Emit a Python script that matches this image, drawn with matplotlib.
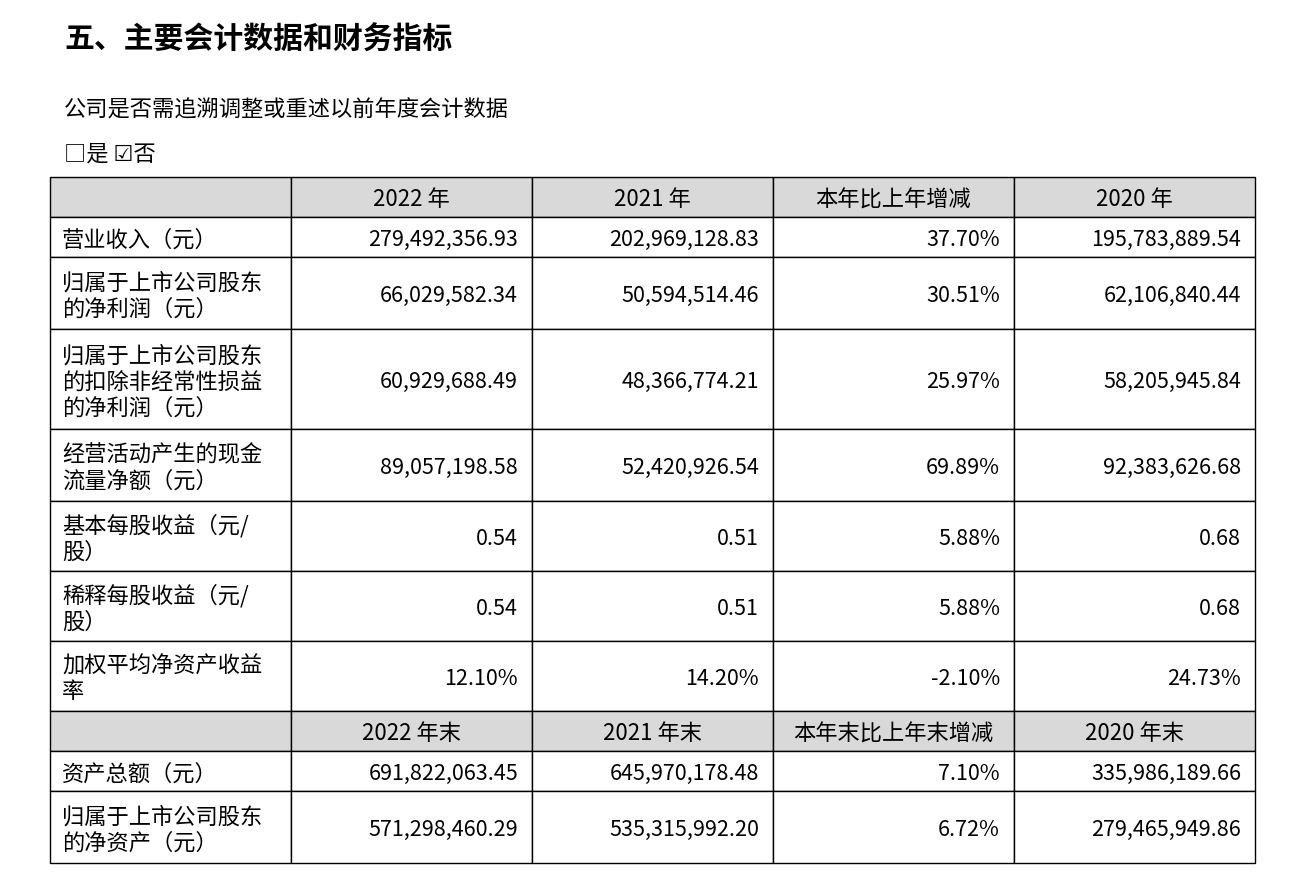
import matplotlib
matplotlib.use("Agg")
import matplotlib.pyplot as plt
from matplotlib.patches import Rectangle

plt.rcParams['font.family'] = ['Noto Sans CJK SC', 'DejaVu Sans']

title = "五、主要会计数据和财务指标"
subtitle = "公司是否需追溯调整或重述以前年度会计数据"
choice = "□是 ☑否"
header1 = ["", "2022 年", "2021 年", "本年比上年增减", "2020 年"]
header2 = ["", "2022 年末", "2021 年末", "本年末比上年末增减", "2020 年末"]
labels1 = ["营业收入（元）", "归属于上市公司股东\n的净利润（元）",
           "归属于上市公司股东\n的扣除非经常性损益\n的净利润（元）",
           "经营活动产生的现金\n流量净额（元）", "基本每股收益（元/\n股）",
           "稀释每股收益（元/\n股）", "加权平均净资产收益\n率"]
vals2022 = ["279,492,356.93", "66,029,582.34", "60,929,688.49", "89,057,198.58", "0.54", "0.54", "12.10%"]
vals2021 = ["202,969,128.83", "50,594,514.46", "48,366,774.21", "52,420,926.54", "0.51", "0.51", "14.20%"]
change = ["37.70%", "30.51%", "25.97%", "69.89%", "5.88%", "5.88%", "-2.10%"]
vals2020 = ["195,783,889.54", "62,106,840.44", "58,205,945.84", "92,383,626.68", "0.68", "0.68", "24.73%"]
labels2 = ["资产总额（元）", "归属于上市公司股东\n的净资产（元）"]
b2022 = ["691,822,063.45", "571,298,460.29"]
b2021 = ["645,970,178.48", "535,315,992.20"]
bchange = ["7.10%", "6.72%"]
b2020 = ["335,986,189.66", "279,465,949.86"]

col_x = [50, 291, 532, 773, 1014, 1255]
row_y = [178, 218, 258, 330, 430, 502, 572, 642, 712, 752, 792, 864]

fig = plt.figure(figsize=(13.02, 8.78), dpi=100)
ax = fig.add_axes([0, 0, 1, 1])
ax.set_xlim(0, 1302); ax.set_ylim(878, 0); ax.axis('off')

ax.text(64, 40, title, fontsize=21.5, fontweight='bold', va='center', ha='left')
ax.text(64, 110, subtitle, fontsize=16, va='center', ha='left')
ax.text(64, 154, choice, fontsize=16, va='center', ha='left')

rows = [header1] + [[l, a, b, c, d] for l, a, b, c, d in zip(labels1, vals2022, vals2021, change, vals2020)] \
     + [header2] + [[l, a, b, c, d] for l, a, b, c, d in zip(labels2, b2022, b2021, bchange, b2020)]
header_idx = {0, 8}
fs_lab = 16
fs_num = 15.5
for i, row in enumerate(rows):
    y0, y1 = row_y[i], row_y[i + 1]
    yc = (y0 + y1) / 2 + 2
    for j in range(5):
        x0, x1 = col_x[j], col_x[j + 1]
        fc = '#d9d9d9' if i in header_idx else 'white'
        ax.add_patch(Rectangle((x0, y0), x1 - x0, y1 - y0, facecolor=fc, edgecolor='black', lw=1))
        t = row[j]
        if not t:
            continue
        if i in header_idx:
            ax.text((x0 + x1) / 2, yc, t, fontsize=fs_lab, ha='center', va='center')
        elif j == 0:
            ax.text(x0 + 12, yc, t, fontsize=fs_lab, ha='left', va='center', linespacing=1.15)
        else:
            ax.text(x1 - 14, yc, t, fontsize=fs_num, ha='right', va='center')

fig.savefig("out.png", dpi=100)
